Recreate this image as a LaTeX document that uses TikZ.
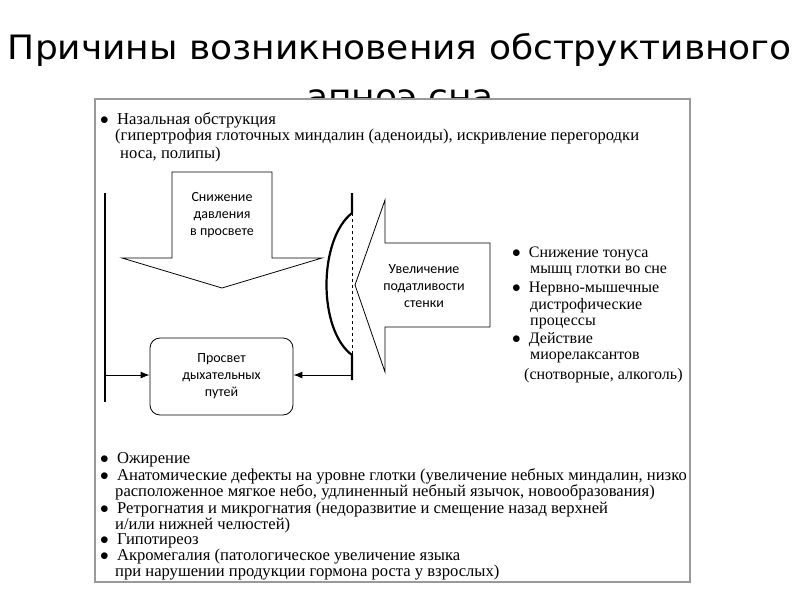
\documentclass[tikz,border=0pt]{standalone}
\usepackage{fontspec}
\setmainfont{Liberation Serif}
\newfontfamily\titlefont{DejaVu Sans Condensed}
\newfontfamily\calfont{Carlito}
\usetikzlibrary{arrows.meta}
\tikzset{
  txt/.style={anchor=west,inner sep=0pt,font=\fontsize{16.6}{17}\selectfont,align=left},
  rtxt/.style={anchor=west,inner sep=0pt,font=\fontsize{16}{17}\selectfont,align=left},
  lbl/.style={inner sep=0pt,font=\calfont\fontsize{14}{17}\selectfont,align=center},
  ttl/.style={inner sep=0pt,font=\titlefont\fontsize{32}{36}\selectfont},
  wall/.style={line width=2.2pt},
  conn/.style={-{Latex[length=9pt,width=7pt]},line width=1pt},
  bigarrow/.style={draw,fill=white,line width=0.8pt}
}
\begin{document}
\begin{tikzpicture}[x=1pt,y=-1pt]
\useasboundingbox (0,0) rectangle (800,600);
\fill[white] (0,0) rectangle (800,600);
\node[ttl] (t1) at (400,50) {\scalebox{1.25}[1.05]{Причины возникновения обструктивного}};
\node[ttl] (t2) at (400,99) {\scalebox{1.25}[1.05]{апноэ сна}};
\draw[fill=white,draw=gray!80,line width=1.2pt] (95,99) rectangle (690,582);
% top text
\node[txt] (a1) at (100,120) {$\bullet$\ \ Назальная обструкция};
\node[txt] (a2) at (115,137) {(гипертрофия глоточных миндалин (аденоиды), искривление перегородки};
\node[txt] (a3) at (120,155) {носа, полипы)};
% walls
\draw[wall] (105,193) -- (105,402);
\draw[wall] (352,193) -- (352,213) .. controls (318,240) and (318,330) .. (352,355) -- (352,380);
\draw[dashed,line width=0.8pt] (352,213) -- (352,355);
% down arrow
\draw[bigarrow] (172,172) -- (272,172) -- (272,258) -- (322,258) -- (222,288) -- (122,258) -- (172,258) -- cycle;
\node[lbl] (l1) at (222,215) {Снижение\\давления\\в просвете};
% left arrow
\draw[bigarrow] (355,285) -- (385,200) -- (385,243) -- (490,243) -- (490,327) -- (385,327) -- (385,372) -- cycle;
\node[lbl] (l2) at (424,286) {Увеличение\\податливости\\стенки};
% box
\node[draw,line width=0.8pt,rounded corners=10pt,minimum width=143pt,minimum height=77pt,lbl] (box) at (221.5,376.5) {Просвет\\дыхательных\\путей};
\coordinate (lw) at (105,375);
\coordinate (rw) at (352,375);
\draw[conn] (lw) -- (box.west |- lw);
\draw[conn] (rw) -- (box.east |- rw);
% right text
\node[rtxt] (b1) at (512,254) {$\bullet$\ \ Снижение тонуса};
\node[rtxt] (b2) at (530,271) {мышц глотки во сне};
\node[rtxt] (b3) at (512,289) {$\bullet$\ \ Нервно-мышечные};
\node[rtxt] (b4) at (530,306) {дистрофические};
\node[rtxt] (b5) at (530,323) {процессы};
\node[rtxt] (b6) at (512,340) {$\bullet$\ \ Действие};
\node[rtxt] (b7) at (530,357) {миорелаксантов};
\node[rtxt] (b8) at (524,376) {(снотворные, алкоголь)};
% bottom text
\node[txt] (c1) at (100,460) {$\bullet$\ \ Ожирение};
\node[txt] (c2) at (100,476) {$\bullet$\ \ Анатомические дефекты на уровне глотки (увеличение небных миндалин, низко};
\node[txt] (c3) at (115,492) {расположенное мягкое небо, удлиненный небный язычок, новообразования)};
\node[txt] (c4) at (100,509) {$\bullet$\ \ Ретрогнатия и микрогнатия (недоразвитие и смещение назад верхней};
\node[txt] (c5) at (115,525) {и/или нижней челюстей)};
\node[txt] (c6) at (100,541) {$\bullet$\ \ Гипотиреоз};
\node[txt] (c7) at (100,557) {$\bullet$\ \ Акромегалия (патологическое увеличение языка};
\node[txt] (c8) at (115,573) {при нарушении продукции гормона роста у взрослых)};
\end{tikzpicture}
\end{document}
